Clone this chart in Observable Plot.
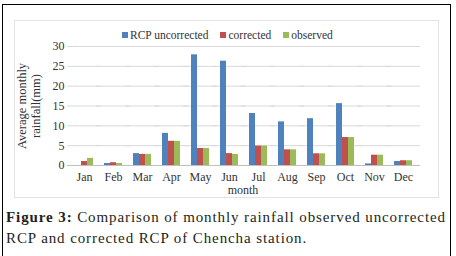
<!DOCTYPE html>
<html>
<head>
<meta charset="utf-8">
<script src="https://cdn.jsdelivr.net/npm/d3@7"></script>
<script src="https://cdn.jsdelivr.net/npm/@observablehq/plot@0.6"></script>
<style>
  html, body { margin:0; padding:0; background:#fff; }
  #wrap { position:relative; width:456px; height:256px; overflow:hidden; font-family:'Liberation Serif', serif; }
  #outer { position:absolute; left:2px; top:4px; width:449px; height:260px; border:1px solid #000; box-sizing:border-box; }
  #inner { position:absolute; left:14px; top:20px; width:425px; height:178px; border:1px solid #e3e3e3; box-sizing:border-box; }
  #chart { position:absolute; left:0; top:0; }
  #chart svg text { font-family:'Liberation Serif', serif; }
  #legend { position:absolute; left:122px; top:29px; display:flex; align-items:center; font-size:11.5px; color:#333; white-space:nowrap; font-family:'Liberation Serif', serif; }
  #legend .item { display:flex; align-items:center; margin-right:12px; }
  #legend .sw { width:6px; height:6px; margin-right:2px; }
  #ylab { position:absolute; left:29px; top:106px; transform:translate(-50%,-50%) rotate(-90deg); font-size:12.5px; line-height:14px; text-align:center; color:#333; white-space:nowrap; }
  #xlab { position:absolute; left:243px; top:183px; transform:translateX(-50%); font-size:12px; color:#333; }
  #caption { position:absolute; left:6px; top:207px; width:450px; font-size:15px; line-height:21px; color:#231f20; letter-spacing:0.9px; white-space:nowrap; }
</style>
</head>
<body>
<div id="wrap">
  <div id="outer"></div>
  <div id="inner"></div>
  <div id="chart"></div>
  <div id="legend"></div>
  <div id="ylab">Average monthly<br>rainfall(mm)</div>
  <div id="xlab">month</div>
  <div id="caption"><b>Figure 3:</b> Comparison of monthly rainfall observed uncorrected<br>RCP and corrected RCP of Chencha station.</div>
</div>
<script>
const months = ["Jan","Feb","Mar","Apr","May","Jun","Jul","Aug","Sep","Oct","Nov","Dec"];
const seriesNames = ["RCP uncorrected","corrected","observed"];
const seriesColors = ["#4F81BD","#C0504D","#9BBB59"];
const rcpUncorrected = [0, 0.5, 3.0, 8.1, 27.9, 26.3, 13.1, 11.0, 11.8, 15.6, 0.4, 1.0];
const corrected      = [1.0, 0.7, 2.8, 6.1, 4.3, 3.0, 4.9, 3.95, 2.95, 7.05, 2.6, 1.2];
const observed       = [1.8, 0.5, 2.8, 6.1, 4.3, 2.8, 4.9, 3.95, 2.95, 7.05, 2.6, 1.2];
const yTicks = [0,5,10,15,20,25,30];

const seriesValues = [rcpUncorrected, corrected, observed];
const data = [];
months.forEach((m, i) => {
  seriesNames.forEach((s, j) => data.push({month: m, series: s, value: seriesValues[j][i]}));
});

const chart = Plot.plot({
  width: 456, height: 200,
  marginLeft: 63, marginRight: 32, marginTop: 46, marginBottom: 35,
  style: {fontFamily: "'Liberation Serif', serif", fontSize: "12px", background: "transparent", color: "#333"},
  fx: {domain: months, paddingInner: 0.3, paddingOuter: 0.22, label: null, tickSize: 0, tickPadding: 7},
  x: {domain: seriesNames, padding: 0, axis: null},
  y: {domain: [0, 30], ticks: yTicks, tickSize: 0, tickPadding: 10, label: null},
  color: {domain: seriesNames, range: seriesColors},
  marks: [
    Plot.ruleY(yTicks.filter(d => d > 0), {stroke: "#d9d9d9", insetLeft: -7, insetRight: -7}),
    Plot.ruleY([0], {stroke: "#bfbfbf", insetLeft: -7, insetRight: -7}),
    Plot.barY(data, {fx: "month", x: "series", y: "value", fill: "series"})
  ]
});
document.getElementById("chart").appendChild(chart);

const legend = document.getElementById("legend");
seriesNames.forEach((s, j) => {
  const item = document.createElement("div");
  item.className = "item";
  const sw = document.createElement("div");
  sw.className = "sw";
  sw.style.background = seriesColors[j];
  const t = document.createElement("span");
  t.textContent = s;
  item.appendChild(sw); item.appendChild(t);
  legend.appendChild(item);
});
</script>
</body>
</html>
